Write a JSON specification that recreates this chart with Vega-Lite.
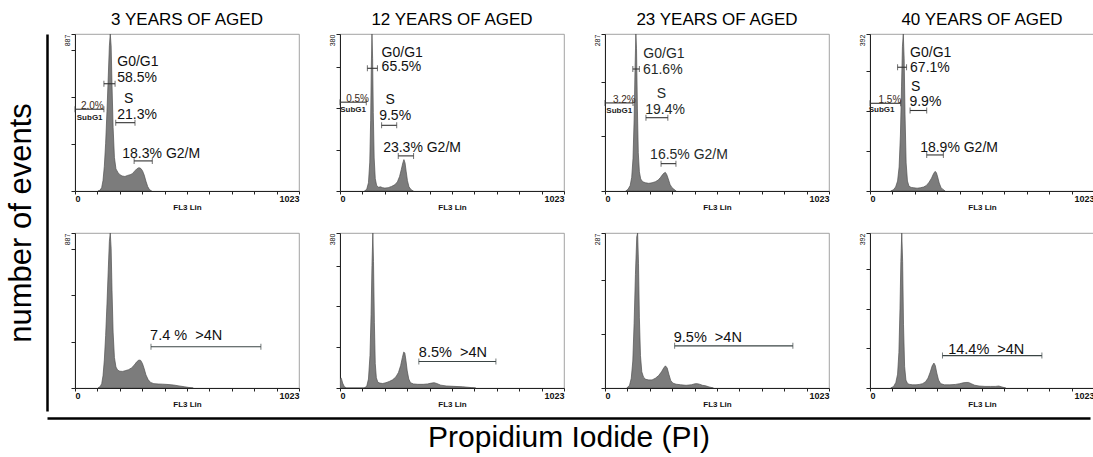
{
"$schema": "https://vega.github.io/schema/vega-lite/v6.json",
"background": "white",
"padding": {"left": 5, "top": 10, "right": 5, "bottom": 5},
"datasets": {
"hist": [
{"p":"t1","x":105,"y":0},{"p":"t1","x":115,"y":5},{"p":"t1","x":122,"y":20},{"p":"t1","x":128,"y":60},{"p":"t1","x":134,"y":140},{"p":"t1","x":140,"y":270},{"p":"t1","x":146,"y":450},{"p":"t1","x":152,"y":650},{"p":"t1","x":157,"y":820},{"p":"t1","x":161,"y":887},{"p":"t1","x":165,"y":820},{"p":"t1","x":169,"y":600},{"p":"t1","x":174,"y":360},{"p":"t1","x":180,"y":190},{"p":"t1","x":187,"y":125},{"p":"t1","x":196,"y":105},{"p":"t1","x":205,"y":92},{"p":"t1","x":215,"y":85},{"p":"t1","x":228,"y":82},{"p":"t1","x":240,"y":88},{"p":"t1","x":252,"y":92},{"p":"t1","x":262,"y":98},{"p":"t1","x":272,"y":112},{"p":"t1","x":282,"y":125},{"p":"t1","x":292,"y":132},{"p":"t1","x":300,"y":128},{"p":"t1","x":308,"y":115},{"p":"t1","x":316,"y":90},{"p":"t1","x":324,"y":55},{"p":"t1","x":332,"y":25},{"p":"t1","x":340,"y":8},{"p":"t1","x":350,"y":0},
{"p":"b1","x":105,"y":0},{"p":"b1","x":115,"y":8},{"p":"b1","x":122,"y":25},{"p":"b1","x":128,"y":70},{"p":"b1","x":134,"y":160},{"p":"b1","x":140,"y":300},{"p":"b1","x":146,"y":480},{"p":"b1","x":152,"y":680},{"p":"b1","x":157,"y":840},{"p":"b1","x":161,"y":887},{"p":"b1","x":165,"y":800},{"p":"b1","x":169,"y":560},{"p":"b1","x":174,"y":320},{"p":"b1","x":180,"y":175},{"p":"b1","x":187,"y":120},{"p":"b1","x":195,"y":102},{"p":"b1","x":205,"y":96},{"p":"b1","x":218,"y":95},{"p":"b1","x":232,"y":100},{"p":"b1","x":245,"y":105},{"p":"b1","x":258,"y":115},{"p":"b1","x":270,"y":130},{"p":"b1","x":282,"y":150},{"p":"b1","x":292,"y":160},{"p":"b1","x":300,"y":158},{"p":"b1","x":308,"y":140},{"p":"b1","x":316,"y":110},{"p":"b1","x":324,"y":75},{"p":"b1","x":334,"y":48},{"p":"b1","x":345,"y":32},{"p":"b1","x":360,"y":25},{"p":"b1","x":380,"y":23},{"p":"b1","x":400,"y":22},{"p":"b1","x":425,"y":20},{"p":"b1","x":450,"y":17},{"p":"b1","x":475,"y":12},{"p":"b1","x":500,"y":7},{"p":"b1","x":520,"y":3},{"p":"b1","x":540,"y":0},
{"p":"t2","x":112,"y":0},{"p":"t2","x":122,"y":4},{"p":"t2","x":130,"y":20},{"p":"t2","x":136,"y":70},{"p":"t2","x":140,"y":170},{"p":"t2","x":143,"y":300},{"p":"t2","x":146,"y":380},{"p":"t2","x":149,"y":320},{"p":"t2","x":152,"y":190},{"p":"t2","x":156,"y":80},{"p":"t2","x":161,"y":30},{"p":"t2","x":167,"y":14},{"p":"t2","x":175,"y":9},{"p":"t2","x":185,"y":10},{"p":"t2","x":195,"y":8},{"p":"t2","x":205,"y":7},{"p":"t2","x":220,"y":8},{"p":"t2","x":235,"y":11},{"p":"t2","x":250,"y":15},{"p":"t2","x":262,"y":22},{"p":"t2","x":272,"y":35},{"p":"t2","x":280,"y":52},{"p":"t2","x":287,"y":68},{"p":"t2","x":292,"y":76},{"p":"t2","x":297,"y":68},{"p":"t2","x":302,"y":48},{"p":"t2","x":308,"y":25},{"p":"t2","x":315,"y":10},{"p":"t2","x":325,"y":3},{"p":"t2","x":335,"y":0},
{"p":"b2","x":0,"y":22},{"p":"b2","x":6,"y":24},{"p":"b2","x":12,"y":12},{"p":"b2","x":20,"y":3},{"p":"b2","x":30,"y":0},{"p":"b2","x":110,"y":0},{"p":"b2","x":122,"y":4},{"p":"b2","x":130,"y":22},{"p":"b2","x":137,"y":80},{"p":"b2","x":142,"y":180},{"p":"b2","x":146,"y":300},{"p":"b2","x":150,"y":380},{"p":"b2","x":153,"y":310},{"p":"b2","x":157,"y":160},{"p":"b2","x":161,"y":60},{"p":"b2","x":166,"y":25},{"p":"b2","x":173,"y":14},{"p":"b2","x":182,"y":12},{"p":"b2","x":195,"y":11},{"p":"b2","x":210,"y":13},{"p":"b2","x":225,"y":16},{"p":"b2","x":240,"y":20},{"p":"b2","x":255,"y":27},{"p":"b2","x":267,"y":38},{"p":"b2","x":277,"y":55},{"p":"b2","x":285,"y":75},{"p":"b2","x":291,"y":88},{"p":"b2","x":296,"y":86},{"p":"b2","x":301,"y":68},{"p":"b2","x":307,"y":42},{"p":"b2","x":314,"y":22},{"p":"b2","x":322,"y":13},{"p":"b2","x":335,"y":10},{"p":"b2","x":355,"y":9},{"p":"b2","x":380,"y":9},{"p":"b2","x":400,"y":10},{"p":"b2","x":418,"y":12},{"p":"b2","x":430,"y":13},{"p":"b2","x":442,"y":11},{"p":"b2","x":460,"y":7},{"p":"b2","x":485,"y":5},{"p":"b2","x":520,"y":4},{"p":"b2","x":560,"y":3},{"p":"b2","x":600,"y":1},{"p":"b2","x":620,"y":0},
{"p":"t3","x":95,"y":0},{"p":"t3","x":105,"y":3},{"p":"t3","x":115,"y":10},{"p":"t3","x":122,"y":25},{"p":"t3","x":128,"y":60},{"p":"t3","x":133,"y":130},{"p":"t3","x":137,"y":220},{"p":"t3","x":141,"y":287},{"p":"t3","x":144,"y":260},{"p":"t3","x":148,"y":150},{"p":"t3","x":152,"y":70},{"p":"t3","x":157,"y":35},{"p":"t3","x":163,"y":22},{"p":"t3","x":172,"y":17},{"p":"t3","x":185,"y":15},{"p":"t3","x":200,"y":14},{"p":"t3","x":215,"y":15},{"p":"t3","x":230,"y":17},{"p":"t3","x":243,"y":20},{"p":"t3","x":254,"y":25},{"p":"t3","x":263,"y":30},{"p":"t3","x":270,"y":33},{"p":"t3","x":276,"y":34},{"p":"t3","x":282,"y":30},{"p":"t3","x":289,"y":22},{"p":"t3","x":297,"y":12},{"p":"t3","x":306,"y":6},{"p":"t3","x":315,"y":3},{"p":"t3","x":325,"y":0},
{"p":"b3","x":100,"y":0},{"p":"b3","x":112,"y":5},{"p":"b3","x":120,"y":18},{"p":"b3","x":127,"y":50},{"p":"b3","x":133,"y":120},{"p":"b3","x":139,"y":210},{"p":"b3","x":145,"y":280},{"p":"b3","x":149,"y":287},{"p":"b3","x":153,"y":230},{"p":"b3","x":157,"y":130},{"p":"b3","x":162,"y":60},{"p":"b3","x":168,"y":30},{"p":"b3","x":176,"y":20},{"p":"b3","x":186,"y":16},{"p":"b3","x":200,"y":15},{"p":"b3","x":215,"y":15},{"p":"b3","x":230,"y":18},{"p":"b3","x":245,"y":23},{"p":"b3","x":258,"y":30},{"p":"b3","x":268,"y":37},{"p":"b3","x":276,"y":41},{"p":"b3","x":284,"y":37},{"p":"b3","x":292,"y":25},{"p":"b3","x":300,"y":14},{"p":"b3","x":310,"y":9},{"p":"b3","x":325,"y":7},{"p":"b3","x":345,"y":6},{"p":"b3","x":370,"y":5},{"p":"b3","x":395,"y":6},{"p":"b3","x":412,"y":8},{"p":"b3","x":422,"y":8},{"p":"b3","x":432,"y":7},{"p":"b3","x":445,"y":5},{"p":"b3","x":460,"y":4},{"p":"b3","x":475,"y":2},{"p":"b3","x":495,"y":0},
{"p":"t4","x":95,"y":0},{"p":"t4","x":107,"y":3},{"p":"t4","x":117,"y":10},{"p":"t4","x":126,"y":25},{"p":"t4","x":133,"y":60},{"p":"t4","x":139,"y":140},{"p":"t4","x":144,"y":260},{"p":"t4","x":148,"y":360},{"p":"t4","x":152,"y":392},{"p":"t4","x":156,"y":330},{"p":"t4","x":160,"y":190},{"p":"t4","x":165,"y":70},{"p":"t4","x":171,"y":25},{"p":"t4","x":178,"y":12},{"p":"t4","x":188,"y":9},{"p":"t4","x":200,"y":8},{"p":"t4","x":215,"y":7},{"p":"t4","x":230,"y":8},{"p":"t4","x":245,"y":10},{"p":"t4","x":258,"y":14},{"p":"t4","x":270,"y":22},{"p":"t4","x":281,"y":32},{"p":"t4","x":290,"y":43},{"p":"t4","x":297,"y":49},{"p":"t4","x":303,"y":46},{"p":"t4","x":309,"y":35},{"p":"t4","x":316,"y":20},{"p":"t4","x":324,"y":9},{"p":"t4","x":333,"y":4},{"p":"t4","x":343,"y":0},
{"p":"b4","x":95,"y":0},{"p":"b4","x":108,"y":4},{"p":"b4","x":118,"y":14},{"p":"b4","x":126,"y":35},{"p":"b4","x":132,"y":90},{"p":"b4","x":137,"y":200},{"p":"b4","x":141,"y":320},{"p":"b4","x":145,"y":392},{"p":"b4","x":149,"y":320},{"p":"b4","x":153,"y":160},{"p":"b4","x":158,"y":55},{"p":"b4","x":164,"y":20},{"p":"b4","x":172,"y":11},{"p":"b4","x":182,"y":9},{"p":"b4","x":195,"y":8},{"p":"b4","x":210,"y":8},{"p":"b4","x":225,"y":9},{"p":"b4","x":240,"y":11},{"p":"b4","x":254,"y":16},{"p":"b4","x":265,"y":25},{"p":"b4","x":275,"y":40},{"p":"b4","x":284,"y":56},{"p":"b4","x":292,"y":63},{"p":"b4","x":298,"y":57},{"p":"b4","x":305,"y":38},{"p":"b4","x":313,"y":20},{"p":"b4","x":323,"y":11},{"p":"b4","x":340,"y":8},{"p":"b4","x":365,"y":8},{"p":"b4","x":390,"y":9},{"p":"b4","x":410,"y":11},{"p":"b4","x":425,"y":13},{"p":"b4","x":438,"y":14},{"p":"b4","x":450,"y":14},{"p":"b4","x":462,"y":11},{"p":"b4","x":478,"y":7},{"p":"b4","x":498,"y":5},{"p":"b4","x":525,"y":4},{"p":"b4","x":550,"y":4},{"p":"b4","x":572,"y":4},{"p":"b4","x":588,"y":5},{"p":"b4","x":600,"y":3},{"p":"b4","x":620,"y":0}
],
"gates": [
{"p":"t1","x":0,"x2":132,"y":462},{"p":"t1","x":132,"x2":183,"y":606},{"p":"t1","x":186,"x2":274,"y":386},{"p":"t1","x":270,"x2":353,"y":170},
{"p":"t2","x":0,"x2":120,"y":215},{"p":"t2","x":125,"x2":171,"y":297},{"p":"t2","x":190,"x2":259,"y":159},{"p":"t2","x":266,"x2":336,"y":85},
{"p":"t3","x":0,"x2":128,"y":161},{"p":"t3","x":127,"x2":157,"y":223},{"p":"t3","x":187,"x2":287,"y":134},{"p":"t3","x":256,"x2":324,"y":50},
{"p":"t4","x":0,"x2":140,"y":219},{"p":"t4","x":126,"x2":167,"y":309},{"p":"t4","x":183,"x2":259,"y":201},{"p":"t4","x":259,"x2":335,"y":90},
{"p":"b1","x":347,"x2":849,"y":236},{"p":"b2","x":360,"x2":712,"y":65},{"p":"b3","x":318,"x2":858,"y":78},{"p":"b4","x":331,"x2":785,"y":82}
],
"labels": [
{"p":"t1","k":"big","t":"G0/G1","x":193,"y":730},{"p":"t1","k":"big","t":"58.5%","x":193,"y":638},{"p":"t1","k":"big","t":"S","x":224,"y":520},{"p":"t1","k":"big","t":"21.3%","x":193,"y":431},{"p":"t1","k":"big","t":"18.3% G2/M","x":216,"y":207},{"p":"t1","k":"pct","t":"2.0%","x":79,"y":462},{"p":"t1","k":"sub","t":"SubG1","x":67,"y":414},
{"p":"t2","k":"big","t":"G0/G1","x":190,"y":334},{"p":"t2","k":"big","t":"65.5%","x":190,"y":299},{"p":"t2","k":"big","t":"S","x":208,"y":220},{"p":"t2","k":"big","t":"9.5%","x":179,"y":182},{"p":"t2","k":"big","t":"23.3% G2/M","x":197,"y":103},{"p":"t2","k":"pct","t":"0.5%","x":80,"y":215},{"p":"t2","k":"sub","t":"SubG1","x":60,"y":196},
{"p":"t3","k":"big","t":"G0/G1","x":175,"y":250},{"p":"t3","k":"big","t":"61.6%","x":173,"y":222},{"p":"t3","k":"big","t":"S","x":236,"y":178},{"p":"t3","k":"big","t":"19.4%","x":184,"y":148},{"p":"t3","k":"big","t":"16.5% G2/M","x":206,"y":66},{"p":"t3","k":"pct","t":"3.2%","x":88,"y":161},{"p":"t3","k":"sub","t":"SubG1","x":65,"y":146},
{"p":"t4","k":"big","t":"G0/G1","x":183,"y":344},{"p":"t4","k":"big","t":"67.1%","x":183,"y":307},{"p":"t4","k":"big","t":"S","x":187,"y":260},{"p":"t4","k":"big","t":"9.9%","x":180,"y":223},{"p":"t4","k":"big","t":"18.9% G2/M","x":229,"y":108},{"p":"t4","k":"pct","t":"1.5%","x":91,"y":219},{"p":"t4","k":"sub","t":"SubG1","x":53,"y":201},
{"p":"b1","k":"big","t":"7.4 %\u00a0 >4N","x":343,"y":297},{"p":"b2","k":"big","t":"8.5%\u00a0 >4N","x":360,"y":86},{"p":"b3","k":"big","t":"9.5%\u00a0 >4N","x":314,"y":92},{"p":"b4","k":"big","t":"14.4%\u00a0 >4N","x":357,"y":97}
]
},
"spacing": 0,
"vconcat": [
{
"spacing": 0,
"hconcat": [
{
"width": 1, "height": 377,
"view": {"stroke": null},
"data": {"values": [{"v": 0}]},
"mark": {"type": "point", "opacity": 0},
"encoding": {"y": {"field": "v", "type": "quantitative", "scale": {"domain": [0, 1]}, "axis": {"title": "number of events", "titleFontSize": 31, "titleFontWeight": "normal", "titleColor": "#000", "titlePadding": 10, "domain": true, "domainWidth": 2.5, "domainColor": "#000", "ticks": false, "labels": false, "minExtent": 0, "maxExtent": 0, "values": []}}}
},
{
"spacing": 20,
"vconcat": [
{
"spacing": 16,
"hconcat": [
{
"width": 224, "height": 157, "title": "3 YEARS OF AGED",
"encoding": {
"x": {"field": "x", "type": "quantitative", "title": "FL3 Lin", "scale": {"domain": [0, 1023]}, "axis": {"values": [0,102.3,204.6,306.9,409.2,511.5,613.8,716.1,818.4,920.7,1023], "labelExpr": "datum.value==0?'0':datum.value==1023?'1023':''"}},
"y": {"field": "y", "type": "quantitative", "title": null, "scale": {"domain": [0, 887]}, "axis": {"values": [0,266,532,798,887], "labelExpr": "datum.value==887?'887':''"}}
},
"layer": [
{"data": {"name": "hist"}, "transform": [{"filter": "datum.p=='t1'"}], "mark": {"type": "area", "fill": "#7c7c7c", "stroke": "#505050", "strokeWidth": 0.7, "clip": true}},
{"data": {"name": "gates"}, "transform": [{"filter": "datum.p=='t1'"}], "mark": {"type": "rule", "color": "#333", "strokeWidth": 1.1}, "encoding": {"x2": {"field": "x2"}}},
{"data": {"name": "gates"}, "transform": [{"filter": "datum.p=='t1'"}, {"fold": ["x", "x2"], "as": ["end", "x"]}], "mark": {"type": "tick", "orient": "vertical", "size": 6, "thickness": 1, "color": "#333"}},
{"data": {"name": "labels"}, "transform": [{"filter": "datum.p=='t1' && datum.k=='big'"}], "mark": {"type": "text", "align": "left", "baseline": "middle", "fontSize": 14, "color": "#111"}, "encoding": {"text": {"field": "t"}}},
{"data": {"name": "labels"}, "transform": [{"filter": "datum.p=='t1' && datum.k=='pct'"}], "mark": {"type": "text", "align": "center", "baseline": "alphabetic", "fontSize": 10, "color": "#3a2a20"}, "encoding": {"text": {"field": "t"}}},
{"data": {"name": "labels"}, "transform": [{"filter": "datum.p=='t1' && datum.k=='sub'"}], "mark": {"type": "text", "align": "center", "baseline": "middle", "fontSize": 8, "fontWeight": "bold", "color": "#222"}, "encoding": {"text": {"field": "t"}}}
]
},
{
"width": 224, "height": 157, "title": "12 YEARS OF AGED",
"encoding": {
"x": {"field": "x", "type": "quantitative", "title": "FL3 Lin", "scale": {"domain": [0, 1023]}, "axis": {"values": [0,102.3,204.6,306.9,409.2,511.5,613.8,716.1,818.4,920.7,1023], "labelExpr": "datum.value==0?'0':datum.value==1023?'1023':''"}},
"y": {"field": "y", "type": "quantitative", "title": null, "scale": {"domain": [0, 380]}, "axis": {"values": [0,100,200,300,380], "labelExpr": "datum.value==380?'380':''"}}
},
"layer": [
{"data": {"name": "hist"}, "transform": [{"filter": "datum.p=='t2'"}], "mark": {"type": "area", "fill": "#7c7c7c", "stroke": "#505050", "strokeWidth": 0.7, "clip": true}},
{"data": {"name": "gates"}, "transform": [{"filter": "datum.p=='t2'"}], "mark": {"type": "rule", "color": "#333", "strokeWidth": 1.1}, "encoding": {"x2": {"field": "x2"}}},
{"data": {"name": "gates"}, "transform": [{"filter": "datum.p=='t2'"}, {"fold": ["x", "x2"], "as": ["end", "x"]}], "mark": {"type": "tick", "orient": "vertical", "size": 6, "thickness": 1, "color": "#333"}},
{"data": {"name": "labels"}, "transform": [{"filter": "datum.p=='t2' && datum.k=='big'"}], "mark": {"type": "text", "align": "left", "baseline": "middle", "fontSize": 14, "color": "#111"}, "encoding": {"text": {"field": "t"}}},
{"data": {"name": "labels"}, "transform": [{"filter": "datum.p=='t2' && datum.k=='pct'"}], "mark": {"type": "text", "align": "center", "baseline": "alphabetic", "fontSize": 10, "color": "#3a2a20"}, "encoding": {"text": {"field": "t"}}},
{"data": {"name": "labels"}, "transform": [{"filter": "datum.p=='t2' && datum.k=='sub'"}], "mark": {"type": "text", "align": "center", "baseline": "middle", "fontSize": 8, "fontWeight": "bold", "color": "#222"}, "encoding": {"text": {"field": "t"}}}
]
},
{
"width": 224, "height": 157, "title": "23 YEARS OF AGED",
"encoding": {
"x": {"field": "x", "type": "quantitative", "title": "FL3 Lin", "scale": {"domain": [0, 1023]}, "axis": {"values": [0,102.3,204.6,306.9,409.2,511.5,613.8,716.1,818.4,920.7,1023], "labelExpr": "datum.value==0?'0':datum.value==1023?'1023':''"}},
"y": {"field": "y", "type": "quantitative", "title": null, "scale": {"domain": [0, 287]}, "axis": {"values": [0,100,200,287], "labelExpr": "datum.value==287?'287':''"}}
},
"layer": [
{"data": {"name": "hist"}, "transform": [{"filter": "datum.p=='t3'"}], "mark": {"type": "area", "fill": "#7c7c7c", "stroke": "#505050", "strokeWidth": 0.7, "clip": true}},
{"data": {"name": "gates"}, "transform": [{"filter": "datum.p=='t3'"}], "mark": {"type": "rule", "color": "#333", "strokeWidth": 1.1}, "encoding": {"x2": {"field": "x2"}}},
{"data": {"name": "gates"}, "transform": [{"filter": "datum.p=='t3'"}, {"fold": ["x", "x2"], "as": ["end", "x"]}], "mark": {"type": "tick", "orient": "vertical", "size": 6, "thickness": 1, "color": "#333"}},
{"data": {"name": "labels"}, "transform": [{"filter": "datum.p=='t3' && datum.k=='big'"}], "mark": {"type": "text", "align": "left", "baseline": "middle", "fontSize": 14, "color": "#1f2a28"}, "encoding": {"text": {"field": "t"}}},
{"data": {"name": "labels"}, "transform": [{"filter": "datum.p=='t3' && datum.k=='pct'"}], "mark": {"type": "text", "align": "center", "baseline": "alphabetic", "fontSize": 10, "color": "#3a2a20"}, "encoding": {"text": {"field": "t"}}},
{"data": {"name": "labels"}, "transform": [{"filter": "datum.p=='t3' && datum.k=='sub'"}], "mark": {"type": "text", "align": "center", "baseline": "middle", "fontSize": 8, "fontWeight": "bold", "color": "#222"}, "encoding": {"text": {"field": "t"}}}
]
},
{
"width": 224, "height": 157, "title": "40 YEARS OF AGED",
"encoding": {
"x": {"field": "x", "type": "quantitative", "title": "FL3 Lin", "scale": {"domain": [0, 1023]}, "axis": {"values": [0,102.3,204.6,306.9,409.2,511.5,613.8,716.1,818.4,920.7,1023], "labelExpr": "datum.value==0?'0':datum.value==1023?'1023':''"}},
"y": {"field": "y", "type": "quantitative", "title": null, "scale": {"domain": [0, 392]}, "axis": {"values": [0,100,200,300,392], "labelExpr": "datum.value==392?'392':''"}}
},
"layer": [
{"data": {"name": "hist"}, "transform": [{"filter": "datum.p=='t4'"}], "mark": {"type": "area", "fill": "#7c7c7c", "stroke": "#505050", "strokeWidth": 0.7, "clip": true}},
{"data": {"name": "gates"}, "transform": [{"filter": "datum.p=='t4'"}], "mark": {"type": "rule", "color": "#333", "strokeWidth": 1.1}, "encoding": {"x2": {"field": "x2"}}},
{"data": {"name": "gates"}, "transform": [{"filter": "datum.p=='t4'"}, {"fold": ["x", "x2"], "as": ["end", "x"]}], "mark": {"type": "tick", "orient": "vertical", "size": 6, "thickness": 1, "color": "#333"}},
{"data": {"name": "labels"}, "transform": [{"filter": "datum.p=='t4' && datum.k=='big'"}], "mark": {"type": "text", "align": "left", "baseline": "middle", "fontSize": 14, "color": "#111"}, "encoding": {"text": {"field": "t"}}},
{"data": {"name": "labels"}, "transform": [{"filter": "datum.p=='t4' && datum.k=='pct'"}], "mark": {"type": "text", "align": "center", "baseline": "alphabetic", "fontSize": 10, "color": "#3a2a20"}, "encoding": {"text": {"field": "t"}}},
{"data": {"name": "labels"}, "transform": [{"filter": "datum.p=='t4' && datum.k=='sub'"}], "mark": {"type": "text", "align": "center", "baseline": "middle", "fontSize": 8, "fontWeight": "bold", "color": "#222"}, "encoding": {"text": {"field": "t"}}}
]
}
]
},
{
"spacing": 16,
"hconcat": [
{
"width": 224, "height": 155,
"encoding": {
"x": {"field": "x", "type": "quantitative", "title": "FL3 Lin", "scale": {"domain": [0, 1023]}, "axis": {"values": [0,102.3,204.6,306.9,409.2,511.5,613.8,716.1,818.4,920.7,1023], "labelExpr": "datum.value==0?'0':datum.value==1023?'1023':''"}},
"y": {"field": "y", "type": "quantitative", "title": null, "scale": {"domain": [0, 887]}, "axis": {"values": [0,266,532,798,887], "labelExpr": "datum.value==887?'887':''"}}
},
"layer": [
{"data": {"name": "hist"}, "transform": [{"filter": "datum.p=='b1'"}], "mark": {"type": "area", "fill": "#7c7c7c", "stroke": "#505050", "strokeWidth": 0.7, "clip": true}},
{"data": {"name": "gates"}, "transform": [{"filter": "datum.p=='b1'"}], "mark": {"type": "rule", "color": "#3a4444", "strokeWidth": 1.1}, "encoding": {"x2": {"field": "x2"}}},
{"data": {"name": "gates"}, "transform": [{"filter": "datum.p=='b1'"}, {"fold": ["x", "x2"], "as": ["end", "x"]}], "mark": {"type": "tick", "orient": "vertical", "size": 6, "thickness": 1, "color": "#3a4444"}},
{"data": {"name": "labels"}, "transform": [{"filter": "datum.p=='b1' && datum.k=='big'"}], "mark": {"type": "text", "align": "left", "baseline": "middle", "fontSize": 14.5, "color": "#111"}, "encoding": {"text": {"field": "t"}}}
]
},
{
"width": 224, "height": 155,
"encoding": {
"x": {"field": "x", "type": "quantitative", "title": "FL3 Lin", "scale": {"domain": [0, 1023]}, "axis": {"values": [0,102.3,204.6,306.9,409.2,511.5,613.8,716.1,818.4,920.7,1023], "labelExpr": "datum.value==0?'0':datum.value==1023?'1023':''"}},
"y": {"field": "y", "type": "quantitative", "title": null, "scale": {"domain": [0, 380]}, "axis": {"values": [0,100,200,300,380], "labelExpr": "datum.value==380?'380':''"}}
},
"layer": [
{"data": {"name": "hist"}, "transform": [{"filter": "datum.p=='b2'"}], "mark": {"type": "area", "fill": "#7c7c7c", "stroke": "#505050", "strokeWidth": 0.7, "clip": true}},
{"data": {"name": "gates"}, "transform": [{"filter": "datum.p=='b2'"}], "mark": {"type": "rule", "color": "#3a4444", "strokeWidth": 1.1}, "encoding": {"x2": {"field": "x2"}}},
{"data": {"name": "gates"}, "transform": [{"filter": "datum.p=='b2'"}, {"fold": ["x", "x2"], "as": ["end", "x"]}], "mark": {"type": "tick", "orient": "vertical", "size": 6, "thickness": 1, "color": "#3a4444"}},
{"data": {"name": "labels"}, "transform": [{"filter": "datum.p=='b2' && datum.k=='big'"}], "mark": {"type": "text", "align": "left", "baseline": "middle", "fontSize": 14.5, "color": "#111"}, "encoding": {"text": {"field": "t"}}}
]
},
{
"width": 224, "height": 155,
"encoding": {
"x": {"field": "x", "type": "quantitative", "title": "FL3 Lin", "scale": {"domain": [0, 1023]}, "axis": {"values": [0,102.3,204.6,306.9,409.2,511.5,613.8,716.1,818.4,920.7,1023], "labelExpr": "datum.value==0?'0':datum.value==1023?'1023':''"}},
"y": {"field": "y", "type": "quantitative", "title": null, "scale": {"domain": [0, 287]}, "axis": {"values": [0,100,200,287], "labelExpr": "datum.value==287?'287':''"}}
},
"layer": [
{"data": {"name": "hist"}, "transform": [{"filter": "datum.p=='b3'"}], "mark": {"type": "area", "fill": "#7c7c7c", "stroke": "#505050", "strokeWidth": 0.7, "clip": true}},
{"data": {"name": "gates"}, "transform": [{"filter": "datum.p=='b3'"}], "mark": {"type": "rule", "color": "#3a4444", "strokeWidth": 1.1}, "encoding": {"x2": {"field": "x2"}}},
{"data": {"name": "gates"}, "transform": [{"filter": "datum.p=='b3'"}, {"fold": ["x", "x2"], "as": ["end", "x"]}], "mark": {"type": "tick", "orient": "vertical", "size": 6, "thickness": 1, "color": "#3a4444"}},
{"data": {"name": "labels"}, "transform": [{"filter": "datum.p=='b3' && datum.k=='big'"}], "mark": {"type": "text", "align": "left", "baseline": "middle", "fontSize": 14.5, "color": "#111"}, "encoding": {"text": {"field": "t"}}}
]
},
{
"width": 224, "height": 155,
"encoding": {
"x": {"field": "x", "type": "quantitative", "title": "FL3 Lin", "scale": {"domain": [0, 1023]}, "axis": {"values": [0,102.3,204.6,306.9,409.2,511.5,613.8,716.1,818.4,920.7,1023], "labelExpr": "datum.value==0?'0':datum.value==1023?'1023':''"}},
"y": {"field": "y", "type": "quantitative", "title": null, "scale": {"domain": [0, 392]}, "axis": {"values": [0,100,200,300,392], "labelExpr": "datum.value==392?'392':''"}}
},
"layer": [
{"data": {"name": "hist"}, "transform": [{"filter": "datum.p=='b4'"}], "mark": {"type": "area", "fill": "#7c7c7c", "stroke": "#505050", "strokeWidth": 0.7, "clip": true}},
{"data": {"name": "gates"}, "transform": [{"filter": "datum.p=='b4'"}], "mark": {"type": "rule", "color": "#3a4444", "strokeWidth": 1.1}, "encoding": {"x2": {"field": "x2"}}},
{"data": {"name": "gates"}, "transform": [{"filter": "datum.p=='b4'"}, {"fold": ["x", "x2"], "as": ["end", "x"]}], "mark": {"type": "tick", "orient": "vertical", "size": 6, "thickness": 1, "color": "#3a4444"}},
{"data": {"name": "labels"}, "transform": [{"filter": "datum.p=='b4' && datum.k=='big'"}], "mark": {"type": "text", "align": "left", "baseline": "middle", "fontSize": 14.5, "color": "#111"}, "encoding": {"text": {"field": "t"}}}
]
}
]
}
]
}
]
},
{
"width": 1043, "height": 1,
"view": {"stroke": null},
"data": {"values": [{"v": 0}]},
"mark": {"type": "point", "opacity": 0},
"encoding": {"x": {"field": "v", "type": "quantitative", "scale": {"domain": [0, 1]}, "axis": {"title": "Propidium Iodide (PI)", "titleFontSize": 30, "titleFontWeight": "normal", "titleColor": "#000", "titlePadding": 4, "domain": true, "domainWidth": 2.5, "domainColor": "#000", "ticks": false, "labels": false, "values": []}}}
}
],
"config": {
"font": "Liberation Sans",
"view": {"stroke": "#8a8a8a", "strokeWidth": 0.8},
"title": {"fontSize": 17, "fontWeight": "normal", "color": "#000", "offset": 5, "font": "Liberation Sans"},
"text": {"font": "Liberation Sans"},
"axis": {"grid": false, "domainColor": "#222", "tickColor": "#222", "labelColor": "#111", "titleColor": "#111", "labelFont": "Liberation Sans", "titleFont": "Liberation Sans", "labelOverlap": false},
"axisX": {"labelFlush": true, "labelFontSize": 9, "labelFontWeight": "bold", "labelPadding": 0, "tickSize": 3, "titleFontSize": 8, "titleFontWeight": "bold", "titlePadding": 0},
"axisY": {"labelAngle": -90, "labelFontSize": 7, "labelPadding": 1, "tickSize": 4, "minExtent": 23, "maxExtent": 23, "labelOffset": 6}
}
}
